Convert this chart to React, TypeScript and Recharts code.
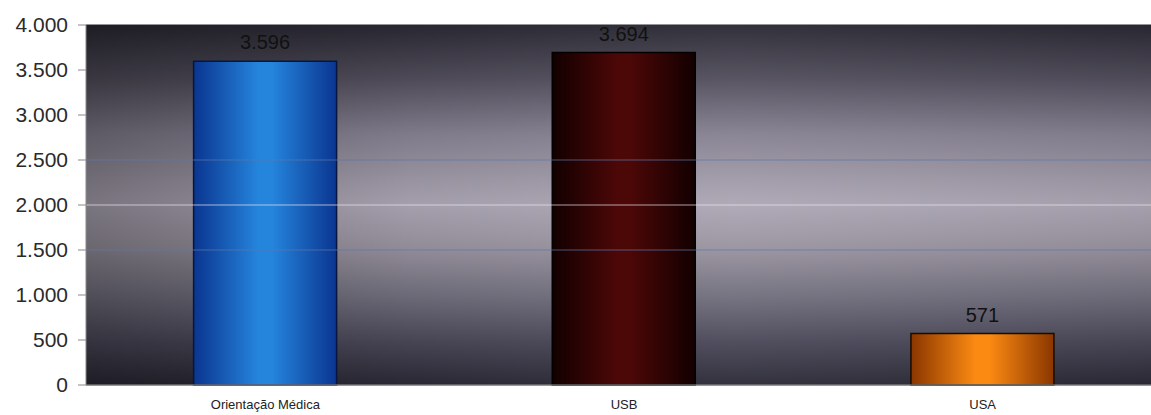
import { BarChart, Bar, XAxis, YAxis, CartesianGrid, Cell, LabelList, ReferenceLine } from "recharts";

const categories = ["Orientação Médica", "USB", "USA"];
const values = [3596, 3694, 571];
const yTicks = [0, 500, 1000, 1500, 2000, 2500, 3000, 3500, 4000];

// bar gradients: edge, centre
const BAR_COLORS = [
  { edge: "#0a3590", mid: "#2584dc", stroke: "#07163f" },
  { edge: "#120000", mid: "#4c0707", stroke: "#050000" },
  { edge: "#8a3600", mid: "#fb8a12", stroke: "#1a0c00" },
];

const data = categories.map((name, i) => ({ name, value: values[i] }));

const fmt = (v: any) => String(v).replace(/\B(?=(\d{3})+(?!\d))/g, ".");

export default function App() {
  return (
    <div style={{ position: "absolute", left: 0, top: 0, width: 1151, height: 415, overflow: "hidden", background: "#fff" }}>
      <BarChart
        width={1162}
        height={415}
        data={data}
        margin={{ top: 25, right: 0, left: 0, bottom: 0 }}
        barCategoryGap="30%"
      >
        <defs>
          <linearGradient id="bgV" x1="0" y1="0" x2="0" y2="1">
            <stop offset="0%" stopColor="#2a2933" />
            <stop offset="15%" stopColor="#524e5c" />
            <stop offset="30%" stopColor="#858090" />
            <stop offset="45%" stopColor="#a49eac" />
            <stop offset="50%" stopColor="#ada7b5" />
            <stop offset="62%" stopColor="#99939f" />
            <stop offset="75%" stopColor="#72707e" />
            <stop offset="88%" stopColor="#4a4858" />
            <stop offset="100%" stopColor="#2a2935" />
          </linearGradient>
          <linearGradient id="bgH" x1="0" y1="0" x2="1" y2="0">
            <stop offset="0%" stopColor="#000" stopOpacity={0.3} />
            <stop offset="30%" stopColor="#000" stopOpacity={0.05} />
            <stop offset="60%" stopColor="#fff" stopOpacity={0.04} />
            <stop offset="100%" stopColor="#000" stopOpacity={0.05} />
          </linearGradient>
          {BAR_COLORS.map((c, i) => (
            <linearGradient key={i} id={`bar${i}`} x1="0" y1="0" x2="1" y2="0">
              <stop offset="0%" stopColor={c.edge} />
              <stop offset="45%" stopColor={c.mid} />
              <stop offset="55%" stopColor={c.mid} />
              <stop offset="100%" stopColor={c.edge} />
            </linearGradient>
          ))}
        </defs>
        <rect x={86} y={25} width={1080} height={360} fill="url(#bgV)" />
        <rect x={86} y={25} width={1080} height={360} fill="url(#bgH)" />
        <CartesianGrid vertical={false} stroke="#2a2a33" strokeWidth={1.2} />
        <ReferenceLine y={2000} stroke="#e8e4ee" strokeOpacity={0.7} strokeWidth={1.2} />
        <ReferenceLine y={2500} stroke="#5f78aa" strokeOpacity={0.7} strokeWidth={1.2} />
        <ReferenceLine y={1500} stroke="#5f78aa" strokeOpacity={0.7} strokeWidth={1.2} />
        <XAxis
          dataKey="name"
          height={30}
          tickLine={false}
          tickSize={0}
          tickMargin={15}
          axisLine={{ stroke: "#999" }}
          tick={{ fontSize: 13, fill: "#222", fontFamily: "Liberation Sans, Arial, sans-serif" }}
        />
        <YAxis
          width={86}
          domain={[0, 4000]}
          ticks={yTicks}
          interval={0}
          tickFormatter={fmt}
          tickSize={8}
          tickMargin={10}
          axisLine={{ stroke: "#888" }}
          tickLine={{ stroke: "#888" }}
          tick={{ fontSize: 21, fill: "#2a2a2a", fontFamily: "Liberation Sans, Arial, sans-serif" }}
        />
        <Bar dataKey="value" isAnimationActive={false}>
          {data.map((d, i) => (
            <Cell key={d.name} fill={`url(#bar${i})`} stroke={BAR_COLORS[i].stroke} strokeWidth={1.5} />
          ))}
          <LabelList
            dataKey="value"
            position="top"
            offset={12}
            formatter={fmt}
            style={{ fontSize: 20, fill: "#111", fontFamily: "Liberation Sans, Arial, sans-serif" }}
          />
        </Bar>
      </BarChart>
    </div>
  );
}
